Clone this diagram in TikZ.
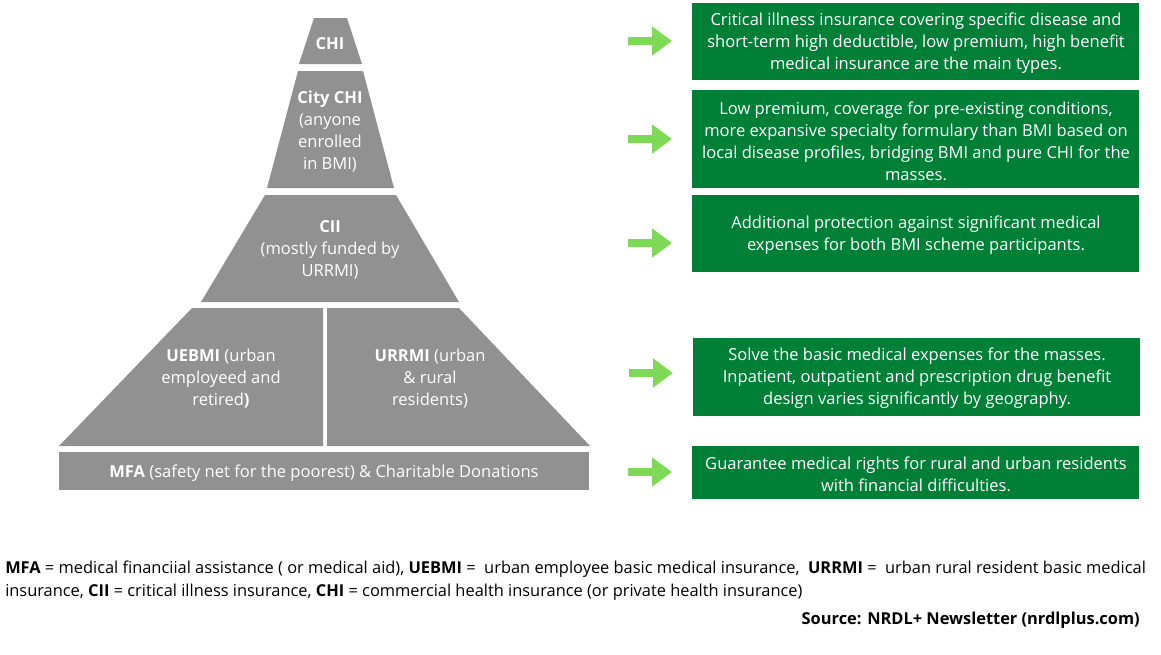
\documentclass[tikz,border=0pt]{standalone}
\usepackage{fontspec}
\setmainfont{Open Sans}
\usetikzlibrary{arrows.meta}
\definecolor{pgray}{HTML}{919191}
\definecolor{bgreen}{HTML}{007F36}
\definecolor{agreen}{HTML}{7ED957}
\tikzset{
  tier/.style={fill=pgray},
  gbox/.style={fill=bgreen},
  ptext/.style={text=white,align=center,inner sep=0pt,font=\fontsize{12.4}{16.5}\selectfont},
  btext/.style={text=white,align=center,inner sep=0pt,font=\fontsize{12.4}{16.5}\selectfont},
  garrow/.style={agreen,line width=6pt,-{Triangle[length=15pt,width=21pt]}},
  legend/.style={anchor=base west,inner sep=0pt,font=\fontsize{12.3}{17}\selectfont}
}
\begin{document}
\begin{tikzpicture}[x=0.75pt,y=-0.75pt]
\useasboundingbox (0,0) rectangle (1161,654);
% pyramid tiers
\fill[tier] (314,18) -- (347,18) -- (362,64) -- (299,64) -- cycle;
\fill[tier] (298,71) -- (363,71) -- (394,188) -- (267,188) -- cycle;
\fill[tier] (265,195) -- (396,195) -- (459,302) -- (201,302) -- cycle;
\fill[tier] (192,308) -- (323,308) -- (323,446) -- (59,446) -- cycle;
\fill[tier] (327,308) -- (459,308) -- (590,446) -- (327,446) -- cycle;
\fill[tier] (59,452) rectangle (589,490);
% pyramid texts
\node[ptext] (chi) at (330,43.5) {\textbf{CHI}};
\node[ptext] (city) at (330,132) {\textbf{City CHI}\\(anyone\\enrolled\\in BMI)};
\node[ptext] (cii) at (330,250) {\textbf{CII}\\(mostly funded by\\URRMI)};
\node[ptext] (uebmi) at (221,378.5) {\textbf{UEBMI} (urban\\employeed and\\retired\textbf{)}};
\node[ptext] (urrmi) at (430,378.5) {\textbf{URRMI} (urban\\\& rural\\residents)};
\node[ptext] (mfa) at (324,473.5) {\textbf{MFA} (safety net for the poorest) \& Charitable Donations};
% green boxes
\fill[gbox] (692,3) rectangle (1139,80);
\fill[gbox] (692,90) rectangle (1139,188);
\fill[gbox] (692,195) rectangle (1139,272);
\fill[gbox] (693,338) rectangle (1140,416);
\fill[gbox] (692,446) rectangle (1139,499);
\node[btext] (d1) at (916,43) {Critical illness insurance covering specific disease and\\short-term high deductible, low premium, high benefit\\medical insurance are the main types.};
\node[btext] (d2) at (916,141) {Low premium, coverage for pre-existing conditions,\\more expansive specialty formulary than BMI based on\\local disease profiles, bridging BMI and pure CHI for the\\masses.};
\node[btext] (d3) at (916,235) {Additional protection against significant medical\\expenses for both BMI scheme participants.};
\node[btext] (d4) at (917,378.5) {Solve the basic medical expenses for the masses.\\Inpatient, outpatient and prescription drug benefit\\design varies significantly by geography.};
\node[btext] (d5) at (916,474.5) {Guarantee medical rights for rural and urban residents\\with financial difficulties.};
% arrows
\coordinate (a1s) at (628,41); \coordinate (a1e) at (672,41);
\coordinate (a2s) at (628,139); \coordinate (a2e) at (672,139);
\coordinate (a3s) at (628,243); \coordinate (a3e) at (672,243);
\coordinate (a4s) at (629,373); \coordinate (a4e) at (673,373);
\coordinate (a5s) at (628,472); \coordinate (a5e) at (672,472);
\draw[garrow] (a1s) -- (a1e);
\draw[garrow] (a2s) -- (a2e);
\draw[garrow] (a3s) -- (a3e);
\draw[garrow] (a4s) -- (a4e);
\draw[garrow] (a5s) -- (a5e);
% legend
\node[legend] (l1) at (5,573) {\textbf{MFA} = medical financiial assistance ( or medical aid), \textbf{UEBMI} =\ \ urban employee basic medical insurance,\ \ \textbf{URRMI} =\ \ urban rural resident basic medical};
\node[legend] (l2) at (5,596) {insurance, \textbf{CII} = critical illness insurance, \textbf{CHI} = commercial health insurance (or private health insurance)};
\node[legend,anchor=base east] (src) at (1140,624) {\textbf{Source: NRDL+ Newsletter (nrdlplus.com)}};
\end{tikzpicture}
\end{document}
